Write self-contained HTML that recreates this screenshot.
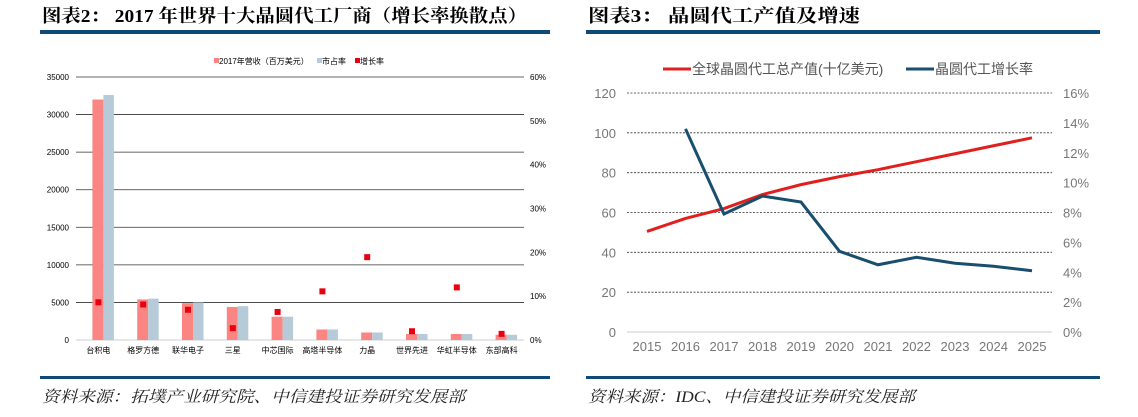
<!DOCTYPE html>
<html><head><meta charset="utf-8"><style>
html,body{margin:0;padding:0;background:#fff;width:1138px;height:417px;overflow:hidden}
svg{display:block}
.hd{font-family:"Liberation Serif","Noto Serif CJK SC",serif;font-weight:bold;font-size:18px;fill:#000}
.ft{font-family:"Liberation Serif","Noto Serif CJK SC",serif;font-style:italic;font-size:16px;fill:#222}
.s{font-family:"Liberation Sans","Noto Sans CJK SC",sans-serif;font-size:8px;fill:#000}
.r{font-family:"Liberation Sans","Noto Sans CJK SC",sans-serif;font-size:13px;fill:#777}
</style></head><body>
<svg id="svg" width="1138" height="417" xmlns="http://www.w3.org/2000/svg">
<text class="hd" x="42" y="22" textLength="485" lengthAdjust="spacingAndGlyphs">图表2：  2017 年世界十大晶圆代工厂商（增长率换散点）</text>
<text class="hd" x="588" y="22" textLength="272" lengthAdjust="spacingAndGlyphs">图表3：  晶圆代工产值及增速</text>
<rect x="40" y="30" width="510" height="4" fill="#0d4a78"/>
<rect x="586" y="30" width="514" height="4" fill="#0d4a78"/>
<rect x="40" y="376" width="510" height="3" fill="#0d4a78"/>
<rect x="586" y="376" width="514" height="3" fill="#0d4a78"/>
<text class="ft" x="42" y="402" textLength="423" lengthAdjust="spacingAndGlyphs">资料来源：拓墣产业研究院、中信建投证券研究发展部</text>
<text class="ft" x="588" y="402" textLength="327" lengthAdjust="spacingAndGlyphs">资料来源：IDC、中信建投证券研究发展部</text>
<g id="left"></g>
<g id="right"></g>
</svg>
<script>
const companies=["台积电","格罗方德","联华电子","三星","中芯国际","高塔半导体","力晶","世界先进","华虹半导体","东部高科"];
const revenue=[32000,5400,4900,4400,3100,1400,1000,800,800,700];
const share=[32600,5500,5000,4500,3100,1400,1000,800,800,700];
const growth=[8.6,8.1,6.9,2.7,6.4,11.1,18.9,2.0,12.0,1.4];
const leftTicks=[0,5000,10000,15000,20000,25000,30000,35000];
const pctTicks=[0,10,20,30,40,50,60];

const years=[2015,2016,2017,2018,2019,2020,2021,2022,2023,2024,2025];
const output=[50.5,57,62,69,74,78,81.5,85.5,89.5,93.5,97.5];
const rate=[null,13.6,7.9,9.1,8.7,5.4,4.5,5.0,4.6,4.4,4.1];
const rTicks=[0,20,40,60,80,100,120];
const rPct=[0,2,4,6,8,10,12,14,16];

const NS="http://www.w3.org/2000/svg";
function mk(parent,tag,attrs,text){const e=document.createElementNS(NS,tag);for(const k in attrs)e.setAttribute(k,attrs[k]);if(text!==undefined)e.textContent=text;parent.appendChild(e);return e;}

// Left chart
const L=document.getElementById('left');
const lx0=76,lx1=524,ly0=340,ly1=77;
const ly=v=>ly0-(v/35000)*(ly0-ly1);
const lyp=v=>ly0-(v/60)*(ly0-ly1);
const gw=(lx1-lx0)/companies.length;
leftTicks.forEach(t=>{
  if(t>0){const g=mk(L,'line',{x1:lx0,x2:lx1,y1:ly(t),y2:ly(t),stroke:'#333','stroke-width':0.8});
  
  }
  const tx=mk(L,'text',{class:'s',x:69,y:ly(t)+3,'text-anchor':'end'},String(t));
  
  
});
mk(L,'line',{x1:lx0,x2:lx1,y1:ly0,y2:ly0,stroke:'#bbb','stroke-width':0.8});
pctTicks.forEach(t=>{
  const tx=mk(L,'text',{class:'s',x:530,y:lyp(t)+3},t+'%');
  
  
});
companies.forEach((c,i)=>{
  const cx=lx0+gw*(i+0.5);
  const b1=mk(L,'rect',{x:cx-6,y:ly(revenue[i]),width:11,height:ly0-ly(revenue[i]),fill:'#fa8583'});
  
  
  const b2=mk(L,'rect',{x:cx+5,y:ly(share[i]),width:10.5,height:ly0-ly(share[i]),fill:'#b7cad8'});
  
  
  const d=mk(L,'rect',{x:cx-3,y:lyp(growth[i])-3,width:6,height:6,fill:'#e8000f'});
  
  
  const tx=mk(L,'text',{class:'s',x:cx,y:353,'text-anchor':'middle'},c);
  
  
});
// legend
[[214,'#fa8583','2017年营收（百万美元）'],[317,'#b7cad8','市占率'],[355,'#e8000f','增长率']].forEach(([x,col,t])=>{
  const r=mk(L,'rect',{x:x,y:58,width:5,height:5,fill:col});
  
  
  const tx=mk(L,'text',{class:'s',x:x+5,y:64},t);
  
  
});

// Right chart
const R=document.getElementById('right');
const rx0=627,rx1=1052,ry0=332,ry1=93;
const rxs=i=>647+i*(1032-647)/(years.length-1);
const ry=v=>ry0-(v/120)*(ry0-ry1);
const ryp=v=>ry0-(v/16)*(ry0-ry1);
rTicks.forEach(t=>{
  if(t>0){const g=mk(R,'line',{x1:rx0,x2:rx1,y1:ry(t),y2:ry(t),stroke:'#333','stroke-width':0.8,'stroke-dasharray':'2,1.5'});
  
  }
  const tx=mk(R,'text',{class:'r',x:616,y:ry(t)+5,'text-anchor':'end'},String(t));
  
  
});
mk(R,'line',{x1:rx0,x2:rx1,y1:ry0,y2:ry0,stroke:'#ccc','stroke-width':1});
rPct.forEach(t=>{
  const tx=mk(R,'text',{class:'r',x:1063,y:ryp(t)+5},t+'%');
  
  
});
years.forEach((y,i)=>{
  const tx=mk(R,'text',{class:'r',x:rxs(i),y:351,'text-anchor':'middle'},String(y));
  
  
});
const p1=mk(R,'polyline',{points:output.map((v,i)=>rxs(i)+','+ry(v)).join(' '),fill:'none',stroke:'#e0201f','stroke-width':3});


const pts=[];rate.forEach((v,i)=>{if(v!==null)pts.push(rxs(i)+','+ryp(v));});
const p2=mk(R,'polyline',{points:pts.join(' '),fill:'none',stroke:'#184e6e','stroke-width':3});


[[663,'#e0201f','全球晶圆代工总产值(十亿美元)'],[906,'#184e6e','晶圆代工增长率']].forEach(([x,col,t])=>{
  const l=mk(R,'line',{x1:x,x2:x+28,y1:69,y2:69,stroke:col,'stroke-width':3});
  
  
  const tx=mk(R,'text',{class:'r',x:x+29,y:74,style:'font-size:14px;fill:#555'},t);
  
  
});
</script>
</body></html>
